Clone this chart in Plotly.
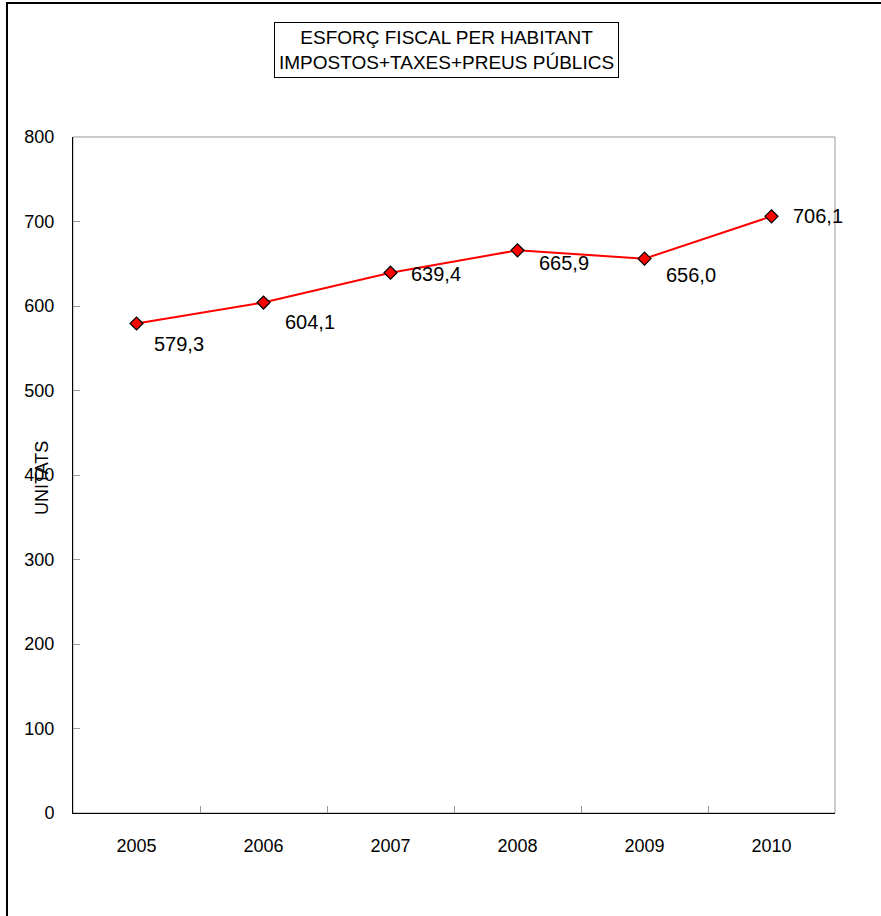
import plotly.graph_objects as go

years = ["2005", "2006", "2007", "2008", "2009", "2010"]
values = [579.3, 604.1, 639.4, 665.9, 656.0, 706.1]
labels = ["579,3", "604,1", "639,4", "665,9", "656,0", "706,1"]
label_dx = [15, 19, 18, 19, 19, 19]
label_dy = [-21, -19, -1, -13, -16, 0]
y_ticks = [0, 100, 200, 300, 400, 500, 600, 700, 800]

FONT = "Liberation Sans, Arial, sans-serif"

fig = go.Figure()
fig.add_trace(go.Scatter(
    x=years, y=values, mode="lines+markers",
    line=dict(color="#ff0000", width=2),
    marker=dict(symbol="diamond", size=10, color="#ff0000",
                line=dict(color="black", width=1.2)),
    showlegend=False, hoverinfo="skip",
))

annotations = []
for i, (v, t, dx, dy) in enumerate(zip(values, labels, label_dx, label_dy)):
    annotations.append(dict(x=i, y=v, xref="x", yref="y", text=t, showarrow=False,
                            xanchor="left", yanchor="middle", xshift=dx, yshift=dy,
                            font=dict(family=FONT, size=20, color="black")))

annotations.append(dict(
    x=(446 - 73) / 762, y=(813 - 50) / 676, xref="paper", yref="paper",
    text="ESFORÇ FISCAL PER HABITANT<br>IMPOSTOS+TAXES+PREUS PÚBLICS",
    showarrow=False, xanchor="center", yanchor="middle",
    font=dict(family=FONT, size=19, color="black"),
    bordercolor="black", borderwidth=1, borderpad=4, bgcolor="white",
))
annotations.append(dict(
    x=(42 - 73) / 762, y=(813 - 478) / 676, xref="paper", yref="paper",
    text="UNITATS", textangle=-90, showarrow=False,
    xanchor="center", yanchor="middle",
    font=dict(family=FONT, size=18, color="black"),
))

shapes = [
    dict(type="rect", xref="paper", yref="paper", x0=0, y0=0, x1=1, y1=1,
         line=dict(color="#999999", width=1), layer="below"),
    dict(type="rect", xref="paper", yref="paper",
         x0=(7 - 73) / 762, x1=(900 - 73) / 762,
         y0=(813 - 940) / 676, y1=(813 - 3) / 676,
         line=dict(color="black", width=2), layer="below"),
]

fig.update_layout(
    width=881, height=916,
    margin=dict(l=73, r=46, t=137, b=103),
    paper_bgcolor="white", plot_bgcolor="white",
    font=dict(family=FONT, size=18, color="black"),
    annotations=annotations, shapes=shapes,
    xaxis=dict(
        type="category", range=[-0.5, 5.5],
        showline=True, linecolor="black", linewidth=1.2,
        ticks="inside", tickson="boundaries", ticklen=7, tickcolor="#999999",
        showgrid=False, zeroline=False,
        tickfont=dict(family=FONT, size=18, color="black"),
        ticklabelstandoff=16,
    ),
    yaxis=dict(
        range=[0, 800], tickvals=y_ticks,
        showline=True, linecolor="black", linewidth=1,
        ticks="inside", ticklen=7, tickcolor="#999999",
        showgrid=False, zeroline=False,
        tickfont=dict(family=FONT, size=18, color="black"),
        ticklabelstandoff=14,
    ),
)

fig.write_html("out.html", config={"displayModeBar": False},
               post_script="document.body.style.margin='0';")
